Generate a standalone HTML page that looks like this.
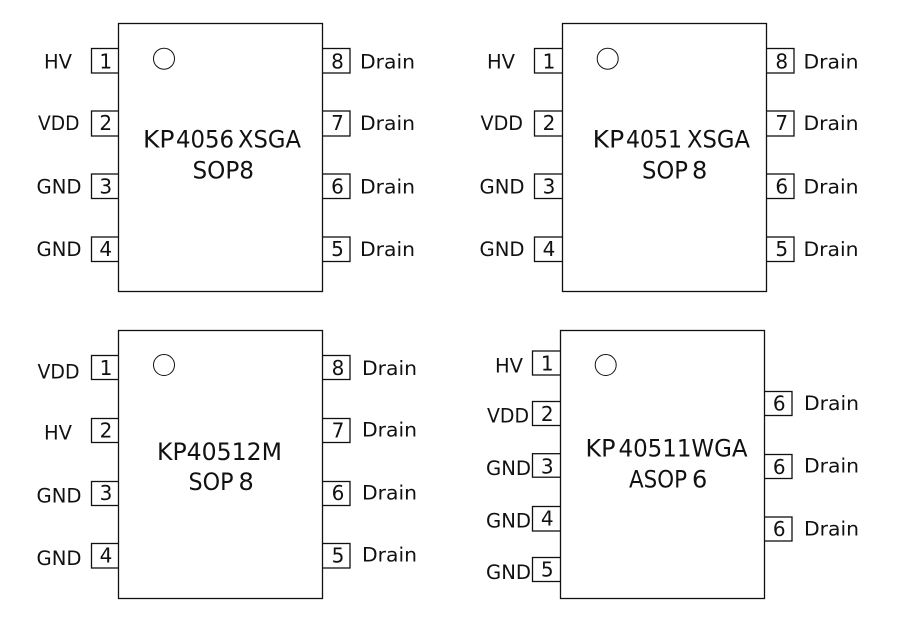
<!DOCTYPE html>
<html><head><meta charset="utf-8"><style>
html,body{margin:0;padding:0;background:#fff;width:897px;height:619px;overflow:hidden}
svg{display:block}
rect,circle{fill:#fff;stroke:#111;stroke-width:1.3}
circle{stroke-width:1}
text{font-family:"DejaVu Sans","Liberation Sans",sans-serif;fill:#111}
.l{font-size:19.5px}
.n{font-size:20px;text-anchor:middle}
.t{font-size:24px}
</style></head><body>
<svg width="897" height="619" viewBox="0 0 897 619" xmlns="http://www.w3.org/2000/svg">
<!-- chip 1 -->
<rect x="91.5" y="48.5" width="30" height="24.5"/><rect x="91.5" y="111" width="30" height="25"/><rect x="91.5" y="174" width="30" height="24.5"/><rect x="91.5" y="237" width="30" height="24.5"/>
<rect x="318" y="48.5" width="32" height="24.5"/><rect x="318" y="111" width="32" height="25"/><rect x="318" y="174" width="32" height="24.5"/><rect x="318" y="237" width="32" height="24.5"/>
<rect x="118.5" y="23.5" width="204" height="268"/>
<circle cx="164" cy="58.7" r="10.5"/>
<text class="l" x="44" y="68.7" textLength="28" lengthAdjust="spacingAndGlyphs">HV</text>
<text class="l" x="38" y="130" textLength="41.5" lengthAdjust="spacingAndGlyphs">VDD</text>
<text class="l" x="36.5" y="193.7" textLength="45" lengthAdjust="spacingAndGlyphs">GND</text>
<text class="l" x="36.5" y="256" textLength="45" lengthAdjust="spacingAndGlyphs">GND</text>
<text class="n" x="105.7" y="68.7">1</text><text class="n" x="105.7" y="130">2</text><text class="n" x="105.7" y="193.7">3</text><text class="n" x="105.7" y="256">4</text>
<text class="n" x="337.5" y="68.7">8</text><text class="n" x="337.5" y="130">7</text><text class="n" x="337.5" y="193.5">6</text><text class="n" x="337.5" y="256">5</text>
<text class="l" x="360" y="68.7" textLength="55" lengthAdjust="spacingAndGlyphs">Drain</text>
<text class="l" x="360" y="130" textLength="55" lengthAdjust="spacingAndGlyphs">Drain</text>
<text class="l" x="360" y="193.5" textLength="55" lengthAdjust="spacingAndGlyphs">Drain</text>
<text class="l" x="360" y="256" textLength="55" lengthAdjust="spacingAndGlyphs">Drain</text>
<text class="t" x="143" y="147.3" textLength="31.5" lengthAdjust="spacingAndGlyphs">KP</text>
<text class="t" x="176" y="147.3" textLength="58" lengthAdjust="spacingAndGlyphs">4056</text>
<text class="t" x="238" y="147.3" textLength="63" lengthAdjust="spacingAndGlyphs">XSGA</text>
<text class="t" x="192.5" y="178.3" textLength="61.5" lengthAdjust="spacingAndGlyphs">SOP8</text>
<!-- chip 2 -->
<rect x="534.5" y="48.5" width="32" height="24.5"/><rect x="534.5" y="111" width="32" height="25"/><rect x="534.5" y="174" width="32" height="24.5"/><rect x="534.5" y="237" width="32" height="24.5"/>
<rect x="762" y="48.5" width="32" height="24.5"/><rect x="762" y="111" width="32" height="25"/><rect x="762" y="174" width="32" height="24.5"/><rect x="762" y="237" width="32" height="24.5"/>
<rect x="562.5" y="23.5" width="204" height="268"/>
<circle cx="607.7" cy="58.7" r="10.5"/>
<text class="l" x="487" y="68.7" textLength="28" lengthAdjust="spacingAndGlyphs">HV</text>
<text class="l" x="480.5" y="130" textLength="42.5" lengthAdjust="spacingAndGlyphs">VDD</text>
<text class="l" x="479.5" y="193.7" textLength="45" lengthAdjust="spacingAndGlyphs">GND</text>
<text class="l" x="479.5" y="256" textLength="45" lengthAdjust="spacingAndGlyphs">GND</text>
<text class="n" x="549" y="68.7">1</text><text class="n" x="549" y="130">2</text><text class="n" x="549" y="193.7">3</text><text class="n" x="549" y="256">4</text>
<text class="n" x="781.7" y="68.7">8</text><text class="n" x="781.7" y="130">7</text><text class="n" x="781.7" y="193.5">6</text><text class="n" x="781.7" y="256">5</text>
<text class="l" x="803.5" y="68.7" textLength="55" lengthAdjust="spacingAndGlyphs">Drain</text>
<text class="l" x="803.5" y="130" textLength="55" lengthAdjust="spacingAndGlyphs">Drain</text>
<text class="l" x="803.5" y="193.5" textLength="55" lengthAdjust="spacingAndGlyphs">Drain</text>
<text class="l" x="803.5" y="256" textLength="55" lengthAdjust="spacingAndGlyphs">Drain</text>
<text class="t" x="592.7" y="147.3" textLength="31.5" lengthAdjust="spacingAndGlyphs">KP</text>
<text class="t" x="626" y="147.3" textLength="56" lengthAdjust="spacingAndGlyphs">4051</text>
<text class="t" x="687" y="147.3" textLength="63" lengthAdjust="spacingAndGlyphs">XSGA</text>
<text class="t" x="642" y="178.3" textLength="46" lengthAdjust="spacingAndGlyphs">SOP</text>
<text class="t" x="692" y="178.3">8</text>
<!-- chip 3 -->
<rect x="91.5" y="355.5" width="30" height="24"/><rect x="91.5" y="418.5" width="30" height="24"/><rect x="91.5" y="481.5" width="30" height="24"/><rect x="91.5" y="543.5" width="30" height="24.5"/>
<rect x="318" y="355.5" width="32" height="24"/><rect x="318" y="418.5" width="32" height="24"/><rect x="318" y="481.5" width="32" height="24"/><rect x="318" y="543.5" width="32" height="24.5"/>
<rect x="118.5" y="330.5" width="204" height="268"/>
<circle cx="164" cy="365" r="10.5"/>
<text class="l" x="37.5" y="378.3" textLength="42" lengthAdjust="spacingAndGlyphs">VDD</text>
<text class="l" x="44" y="439.3" textLength="28" lengthAdjust="spacingAndGlyphs">HV</text>
<text class="l" x="36.5" y="502.7" textLength="45" lengthAdjust="spacingAndGlyphs">GND</text>
<text class="l" x="36.5" y="565" textLength="45" lengthAdjust="spacingAndGlyphs">GND</text>
<text class="n" x="106" y="375">1</text><text class="n" x="106" y="437.3">2</text><text class="n" x="106" y="500">3</text><text class="n" x="106" y="562.3">4</text>
<text class="n" x="338" y="375">8</text><text class="n" x="338" y="437.3">7</text><text class="n" x="338" y="500">6</text><text class="n" x="338" y="562.3">5</text>
<text class="l" x="362" y="375" textLength="55" lengthAdjust="spacingAndGlyphs">Drain</text>
<text class="l" x="362" y="436.7" textLength="55" lengthAdjust="spacingAndGlyphs">Drain</text>
<text class="l" x="362" y="499.3" textLength="55" lengthAdjust="spacingAndGlyphs">Drain</text>
<text class="l" x="362" y="561.7" textLength="55" lengthAdjust="spacingAndGlyphs">Drain</text>
<text class="t" x="157" y="460" textLength="125" lengthAdjust="spacingAndGlyphs">KP40512M</text>
<text class="t" x="188.5" y="490" textLength="45" lengthAdjust="spacingAndGlyphs">SOP</text>
<text class="t" x="238.5" y="490">8</text>
<!-- chip 4 -->
<rect x="532.5" y="351" width="32" height="24"/><rect x="532.5" y="401.5" width="32" height="24"/><rect x="532.5" y="453.7" width="32" height="23.5"/><rect x="532.5" y="506.5" width="32" height="24.5"/><rect x="532.5" y="557.5" width="32" height="24"/>
<rect x="760" y="391.5" width="32" height="24"/><rect x="760" y="454.5" width="32" height="24"/><rect x="760" y="517" width="32" height="24"/>
<rect x="560.5" y="330.5" width="204" height="268"/>
<circle cx="605.7" cy="365" r="10.5"/>
<text class="l" x="495" y="372.3" textLength="28" lengthAdjust="spacingAndGlyphs">HV</text>
<text class="l" x="487" y="422.7" textLength="42" lengthAdjust="spacingAndGlyphs">VDD</text>
<text class="l" x="486" y="475" textLength="45" lengthAdjust="spacingAndGlyphs">GND</text>
<text class="l" x="486" y="527.7" textLength="45" lengthAdjust="spacingAndGlyphs">GND</text>
<text class="l" x="486" y="579" textLength="45" lengthAdjust="spacingAndGlyphs">GND</text>
<text class="n" x="547.3" y="370.7">1</text><text class="n" x="547.3" y="421">2</text><text class="n" x="547.3" y="473.3">3</text><text class="n" x="547.3" y="525.7">4</text><text class="n" x="547.3" y="576.7">5</text>
<text class="n" x="779.3" y="410.7">6</text><text class="n" x="779.3" y="474">6</text><text class="n" x="779.3" y="536">6</text>
<text class="l" x="804" y="410" textLength="55" lengthAdjust="spacingAndGlyphs">Drain</text>
<text class="l" x="804" y="472.7" textLength="55" lengthAdjust="spacingAndGlyphs">Drain</text>
<text class="l" x="804" y="535.7" textLength="55" lengthAdjust="spacingAndGlyphs">Drain</text>
<text class="t" x="585.5" y="456.7" textLength="30" lengthAdjust="spacingAndGlyphs">KP</text>
<text class="t" x="618.5" y="456.7" textLength="129" lengthAdjust="spacingAndGlyphs">40511WGA</text>
<text class="t" x="629" y="487.7" textLength="58" lengthAdjust="spacingAndGlyphs">ASOP</text>
<text class="t" x="692" y="487.7">6</text>
</svg>
</body></html>
